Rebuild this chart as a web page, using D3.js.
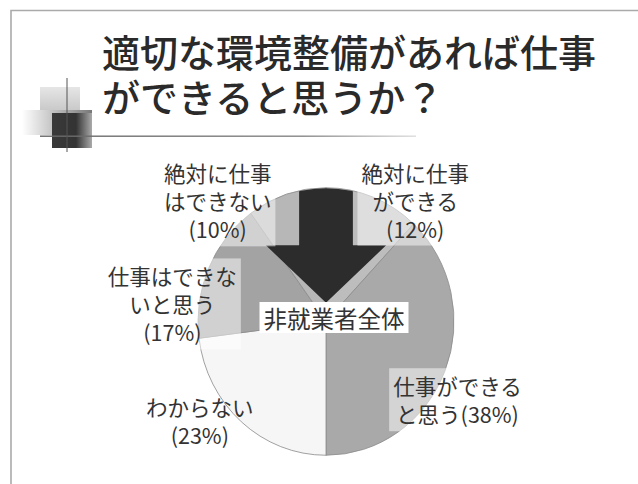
<!DOCTYPE html>
<meta charset="utf-8">
<style>
body { margin: 0; background: #fff; }
svg { display: block; }
text { font-family: "Noto Sans CJK JP", "Noto Sans", sans-serif; fill: #333; }
</style>
<svg width="638" height="484"></svg>
<script src="https://cdn.jsdelivr.net/npm/d3@7/dist/d3.min.js"></script>
<script>

var titleLines = ["適切な環境整備があれば仕事", "ができると思うか？"];
var categories = ["絶対に仕事ができる", "仕事ができると思う", "わからない", "仕事はできないと思う", "絶対に仕事はできない"];
var values = [12, 38, 23, 17, 10];
// label text as it is broken on the slide, {p} gets the value
var labelLines = [
  ["絶対に仕事", "ができる", "({p}%)"],
  ["仕事ができる", "と思う({p}%)"],
  ["わからない", "({p}%)"],
  ["仕事はできな", "いと思う", "({p}%)"],
  ["絶対に仕事", "はできない", "({p}%)"]
];
var groupLabel = "非就業者全体";
var sliceColors = ["#bdbdbd", "#a9a9a9", "#f6f6f6", "#a3a3a3", "#b7b7b7"];

var svg = d3.select("svg"),
    width = +svg.attr("width"),
    height = +svg.attr("height");

var cx = 326, cy = 321.5, r = 128, ys = 1.045;

var defs = svg.append("defs");

// slide frame
svg.append("path")
    .attr("d", "M11," + height + "V10.5H" + width)
    .attr("fill", "none")
    .attr("stroke", "#aaa")
    .attr("stroke-width", 1.6);

// title decoration
var g1 = defs.append("linearGradient").attr("id", "fadeL");
g1.append("stop").attr("offset", 0).attr("stop-color", "#fff");
g1.append("stop").attr("offset", 1).attr("stop-color", "#777");
var g2 = defs.append("linearGradient").attr("id", "dark");
g2.append("stop").attr("offset", 0).attr("stop-color", "#3a3a3a");
g2.append("stop").attr("offset", 0.6).attr("stop-color", "#333");
g2.append("stop").attr("offset", 1).attr("stop-color", "#aaa");
var g3 = defs.append("linearGradient").attr("id", "light").attr("x2", 0).attr("y2", 1);
g3.append("stop").attr("offset", 0).attr("stop-color", "#e6e6e6");
g3.append("stop").attr("offset", 1).attr("stop-color", "#c8c8c8");
var g4 = defs.append("linearGradient").attr("id", "rule");
g4.append("stop").attr("offset", 0).attr("stop-color", "#666");
g4.append("stop").attr("offset", 0.7).attr("stop-color", "#888");
g4.append("stop").attr("offset", 1).attr("stop-color", "#ddd");

var deco = svg.append("g");
deco.append("rect").attr("x", 40).attr("y", 87).attr("width", 40).attr("height", 24).attr("fill", "url(#light)");
deco.append("rect").attr("x", 22).attr("y", 110).attr("width", 70).attr("height", 25).attr("fill", "url(#fadeL)");
deco.append("rect").attr("x", 52).attr("y", 113).attr("width", 40).attr("height", 35).attr("fill", "url(#dark)");
deco.append("rect").attr("x", 40).attr("y", 135.5).attr("width", 376).attr("height", 1.4).attr("fill", "url(#rule)");
deco.append("line").attr("x1", 67).attr("x2", 67).attr("y1", 78).attr("y2", 152)
    .attr("stroke", "#555").attr("stroke-width", 1);

// title
svg.append("g").selectAll("text")
    .data(titleLines)
  .enter().append("text")
    .attr("x", 102)
    .attr("y", function(d, i) { return 67 + i * 45; })
    .attr("font-size", 38)
    .attr("font-weight", 500)
    .style("fill", "#2a2a2a")
    .text(function(d) { return d; });

// pie
var pie = d3.pie().sort(null).value(function(d) { return d; });
var arcs = pie(values);
var arc = d3.arc().innerRadius(0).outerRadius(r);
var labelArc = d3.arc().innerRadius(150).outerRadius(150);

var pieG = svg.append("g")
    .attr("transform", "translate(" + cx + "," + cy + ") scale(1," + ys + ")");

pieG.selectAll("path.slice")
    .data(arcs)
  .enter().append("path")
    .attr("class", "slice")
    .attr("d", arc)
    .attr("fill", function(d, i) { return sliceColors[i]; })
    .attr("stroke", "#8c8c8c")
    .attr("stroke-width", 0.8)
  .append("title")
    .text(function(d, i) { return categories[i] + " " + d.value + "%"; });

// down arrow over the top of the pie, clipped to the pie
defs.append("clipPath").attr("id", "pieClip")
  .append("circle").attr("r", r - 0.5);

var sw = 0.21 * r, hw = 0.47 * r, hy = -0.57 * r, ty = -0.14 * r;
pieG.append("path")
    .attr("clip-path", "url(#pieClip)")
    .attr("d", "M" + [-sw, -r - 5] + "L" + [-sw, hy] + "L" + [-hw, hy] + "L" + [0, ty] +
               "L" + [hw, hy] + "L" + [sw, hy] + "L" + [sw, -r - 5] + "Z")
    .attr("fill", "#2c2c2c");

// slice labels
var nudge = [[34, 18], [-8, 23], [-27, -14], [-16, 42], [-62, 22]];

var labels = svg.append("g").selectAll("g")
    .data(arcs)
  .enter().append("g")
    .attr("transform", function(d, i) {
      var c = labelArc.centroid(d);
      return "translate(" + (cx + c[0] + nudge[i][0]) + "," + (cy + c[1] + nudge[i][1]) + ")";
    });

labels.each(function(d, i) {
  var g = d3.select(this);
  var lines = labelLines[i];
  var box = g.append("rect");
  g.selectAll("text")
      .data(lines)
    .enter().append("text")
      .attr("text-anchor", "middle")
      .attr("dominant-baseline", "central")
      .attr("font-size", 21.5)
      .attr("y", function(l, j) { return (j - (lines.length - 1) / 2) * 28; })
      .text(function(l) { return l.replace("{p}", d.value); });
  var b = this.getBBox();
  box.attr("x", b.x - 4).attr("y", b.y - 2)
      .attr("width", b.width + 8).attr("height", b.height + 4)
      .attr("fill", "#fff").attr("fill-opacity", d.value === 23 ? 0 : 0.5);
});

// group label in the middle
var mid = svg.append("g").attr("transform", "translate(" + (cx + 8) + "," + (cy - 4) + ")");
var midBox = mid.append("rect");
mid.append("text")
    .attr("text-anchor", "middle")
    .attr("dominant-baseline", "central")
    .attr("font-size", 23.5)
    .text(groupLabel);
var mb = mid.node().getBBox();
midBox.attr("x", mb.x - 4).attr("y", -15.5)
    .attr("width", mb.width + 8).attr("height", 31)
    .attr("fill", "#fff");

</script>
